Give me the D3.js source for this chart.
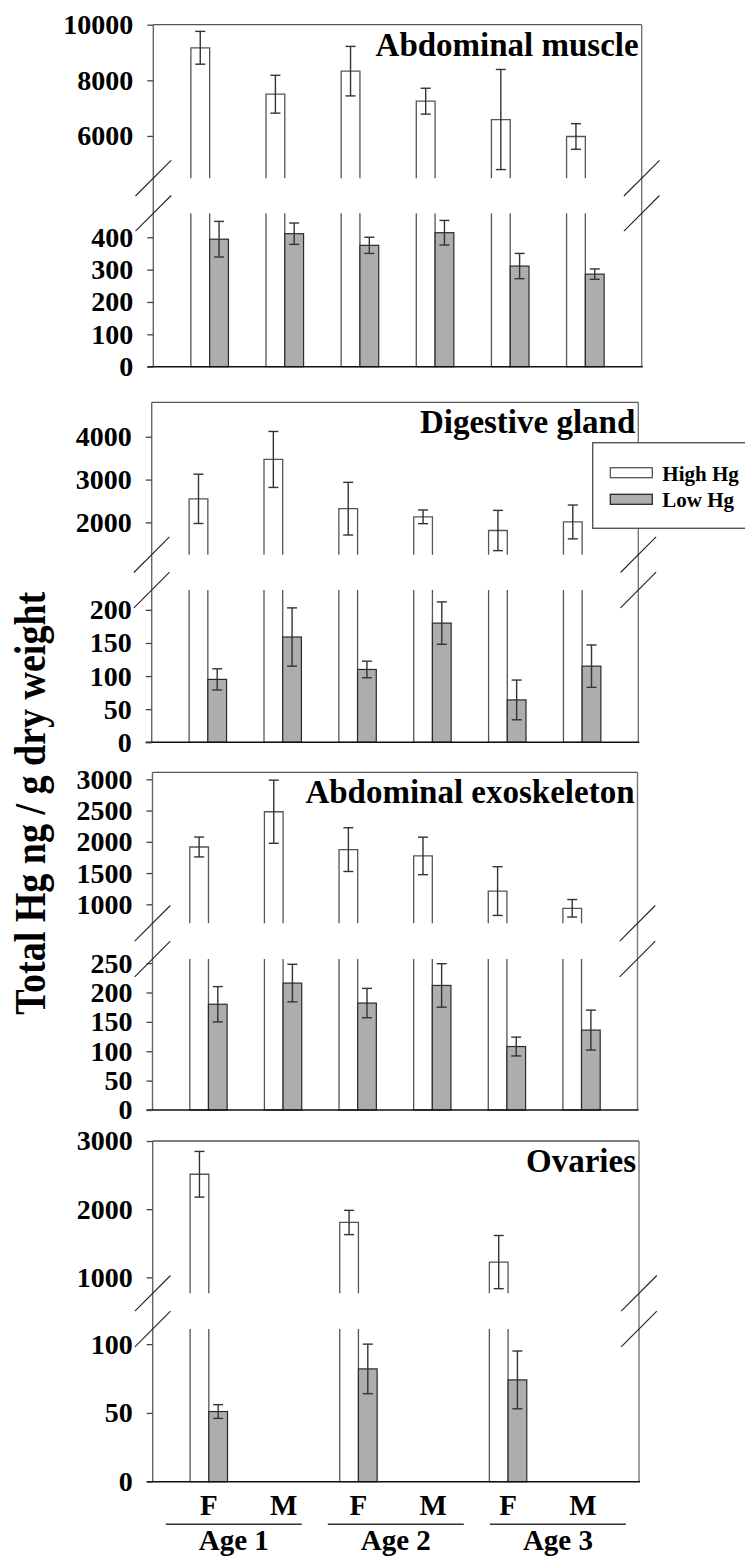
<!DOCTYPE html>
<html>
<head>
<meta charset="utf-8">
<script src="https://cdn.jsdelivr.net/npm/d3@7"></script>
<style>
  html, body { margin: 0; padding: 0; background: #fff; }
  svg { display: block; }
</style>
</head>
<body>
<svg id="chart" width="745" height="1557"></svg>
<script>
// Sex within each age class, and the age classes
const groups = ["F", "M", "F", "M", "F", "M"];
const ages = ["Age 1", "Age 2", "Age 3"];
const tissues = ["Abdominal muscle", "Digestive gland", "Abdominal exoskeleton", "Ovaries"];
const seriesNames = ["High Hg", "Low Hg"];

// Total Hg (ng/g dry weight), mean and error, per group
const muscleHigh    = [9170, 7500, 8330, 7250, 6590, 5980];
const muscleHighErr = [590, 680, 890, 465, 1800, 460];
const muscleLow     = [394, 411, 375, 414, 311, 286];
const muscleLowErr  = [55, 33, 25, 38, 39, 16];

const digestHigh    = [2550, 3470, 2320, 2130, 1810, 2010];
const digestHighErr = [576, 654, 615, 160, 470, 395];
const digestLow     = [95, 159, 110, 180, 64, 115];
const digestLowErr  = [16, 44, 12.5, 32, 30, 32];

const exoHigh       = [1917, 2481, 1875, 1774, 1212, 936];
const exoHighErr    = [159, 505, 350, 300, 390, 140];
const exoLow        = [180, 216, 182, 212, 108, 136];
const exoLowErr     = [30, 32, 25, 37, 16, 34];

const ovaryHigh     = [2512, null, 1805, null, 1224, null];
const ovaryHighErr  = [335, null, 178, null, 390, null];
const ovaryLow      = [51, null, 82, null, 74, null];
const ovaryLowErr   = [5, null, 18, null, 21, null];

// Axis ticks and domains of the two segments of each broken axis
const upperTicks = [[6000, 8000, 10000], [2000, 3000, 4000], [1000, 1500, 2000, 2500, 3000], [1000, 2000, 3000]];
const lowerTicks = [[0, 100, 200, 300, 400], [0, 50, 100, 150, 200], [0, 50, 100, 150, 200, 250], [0, 50, 100]];
const upperDomains = [[4480, 10000], [1245, 4805], [696, 3112], [766, 3000]];
const lowerDomains = [[0, 474], [0, 230], [0, 257], [0, 111]];

const highSeries = [muscleHigh, digestHigh, exoHigh, ovaryHigh];
const highErrors = [muscleHighErr, digestHighErr, exoHighErr, ovaryHighErr];
const lowSeries  = [muscleLow, digestLow, exoLow, ovaryLow];
const lowErrors  = [muscleLowErr, digestLowErr, exoLowErr, ovaryLowErr];

// Panel frames: upper segment spans top..cut, lower segment resume..bottom
const frames = [
  { left: 153.3, right: 641.7, top: 24.7,  cut: 178.2,  resume: 213.3, bottom: 366.7 },
  { left: 151.7, right: 638.3, top: 402.3, cut: 554.7,  resume: 590,   bottom: 742.3 },
  { left: 152.5, right: 637.5, top: 772.3, cut: 923.3,  resume: 959,   bottom: 1110 },
  { left: 152.7, right: 639,   top: 1141,  cut: 1293.3, resume: 1329,  bottom: 1481.7 }
];

const serif = '"Liberation Serif", "Times New Roman", Times, serif';
const highStroke = "#555";
const lowFill = "#adadad";
const lowStroke = "#2a2a2a";
const errColor = "#333";
const capHalf = 5;
const slash = 17.8;

const svg = d3.select("#chart");
svg.append("rect").attr("width", 745).attr("height", 1557).attr("fill", "#fff");

function errorBar(g, cx, yLo, yHi) {
  g.append("line").attr("x1", cx).attr("x2", cx).attr("y1", yLo).attr("y2", yHi)
    .attr("stroke", errColor).attr("stroke-width", 1.4);
  [yLo, yHi].forEach(y => {
    g.append("line").attr("x1", cx - capHalf).attr("x2", cx + capHalf).attr("y1", y).attr("y2", y)
      .attr("stroke", errColor).attr("stroke-width", 1.4);
  });
}

function styleAxis(sel) {
  sel.select(".domain").remove();
  sel.attr("font-size", 28).attr("font-family", serif).attr("font-weight", "bold");
  sel.selectAll(".tick line").attr("stroke", "#444").attr("stroke-width", 1.3);
  sel.selectAll(".tick text").attr("fill", "#000");
}

let lastX = null;

frames.forEach((f, p) => {
  const g = svg.append("g");
  const x = d3.scalePoint().domain(d3.range(groups.length)).range([f.left, f.right]).padding(0.75);
  const bw = x.step() * 0.25;
  const yU = d3.scaleLinear().domain(upperDomains[p]).range([f.cut, f.top]);
  const yL = d3.scaleLinear().domain(lowerDomains[p]).range([f.bottom, f.resume]);
  lastX = x;

  const hi = highSeries[p], hiE = highErrors[p], lo = lowSeries[p], loE = lowErrors[p];

  // High Hg bars: open-ended across the axis break
  hi.forEach((v, i) => {
    if (v == null) return;
    const x0 = x(i) - bw, x1 = x(i);
    g.append("path")
      .attr("d", `M${x0},${f.cut}V${yU(v)}H${x1}V${f.cut}`)
      .attr("fill", "#fff").attr("stroke", highStroke).attr("stroke-width", 1.3);
    g.append("path")
      .attr("d", `M${x0},${f.resume}V${f.bottom}H${x1}V${f.resume}`)
      .attr("fill", "#fff").attr("stroke", highStroke).attr("stroke-width", 1.3);
    errorBar(g, x(i) - bw / 2, yU(v - hiE[i]), yU(v + hiE[i]));
  });

  // Low Hg bars
  lo.forEach((v, i) => {
    if (v == null) return;
    g.append("rect")
      .attr("x", x(i)).attr("y", yL(v)).attr("width", bw).attr("height", yL(0) - yL(v))
      .attr("fill", lowFill).attr("stroke", lowStroke).attr("stroke-width", 1.2);
    errorBar(g, x(i) + bw / 2, yL(v - loE[i]), yL(v + loE[i]));
  });

  // Frame
  g.append("line").attr("x1", f.left).attr("x2", f.right).attr("y1", f.top).attr("y2", f.top)
    .attr("stroke", "#555").attr("stroke-width", 1.3);
  g.append("line").attr("x1", f.right).attr("x2", f.right).attr("y1", f.top).attr("y2", f.bottom)
    .attr("stroke", "#777").attr("stroke-width", 1.4);
  g.append("line").attr("x1", f.left).attr("x2", f.left).attr("y1", f.top).attr("y2", f.bottom)
    .attr("stroke", "#666").attr("stroke-width", 1.4);
  g.append("line").attr("x1", f.left - 6).attr("x2", f.right + 1).attr("y1", f.bottom).attr("y2", f.bottom)
    .attr("stroke", "#111").attr("stroke-width", 1.5);

  // Axes
  g.append("g").attr("transform", `translate(${f.left},0)`)
    .call(d3.axisLeft(yU).tickValues(upperTicks[p]).tickSize(6).tickPadding(14).tickFormat(d3.format("d")))
    .call(styleAxis);
  g.append("g").attr("transform", `translate(${f.left},0)`)
    .call(d3.axisLeft(yL).tickValues(lowerTicks[p]).tickSize(6).tickPadding(14).tickFormat(d3.format("d")))
    .call(styleAxis);

  // Break marks on both sides
  [f.left, f.right].forEach(sx => {
    [f.cut, f.resume].forEach(sy => {
      g.append("line")
        .attr("x1", sx - slash).attr("y1", sy + slash)
        .attr("x2", sx + slash).attr("y2", sy - slash)
        .attr("stroke", "#222").attr("stroke-width", 1.1);
    });
  });

  // Tissue title
  g.append("text")
    .attr("x", f.right - 3).attr("y", f.top + 31)
    .attr("text-anchor", "end").attr("font-size", 33)
    .text(tissues[p]);
});

// Category labels under the last panel
const fb = frames[frames.length - 1];
svg.append("g").selectAll("text").data(groups).join("text")
  .attr("x", (d, i) => lastX(i)).attr("y", 1515)
  .attr("text-anchor", "middle").attr("font-size", 29)
  .text(d => d);

const ageScale = d3.scaleBand().domain(ages).range([fb.left, fb.right]);
const ageG = svg.append("g");
ages.forEach(a => {
  const c = ageScale(a) + ageScale.bandwidth() / 2;
  ageG.append("line").attr("x1", c - 68).attr("x2", c + 68).attr("y1", 1524.3).attr("y2", 1524.3)
    .attr("stroke", "#333").attr("stroke-width", 1.4);
  ageG.append("text").attr("x", c).attr("y", 1550)
    .attr("text-anchor", "middle").attr("font-size", 29).text(a);
});

// Shared y-axis title
svg.append("text")
  .attr("transform", "translate(45,803.3) rotate(-90)")
  .attr("text-anchor", "middle").attr("font-size", 44)
  .attr("textLength", 423).attr("lengthAdjust", "spacingAndGlyphs")
  .text("Total Hg ng / g dry weight");

// Legend
const lg = svg.append("g");
lg.append("rect").attr("x", 592.7).attr("y", 442.7).attr("width", 160).attr("height", 85.6)
  .attr("fill", "#fff").attr("stroke", "#555").attr("stroke-width", 1.4);
const swatchFill = [
  { fill: "#fff", stroke: highStroke },
  { fill: lowFill, stroke: lowStroke }
];
seriesNames.forEach((name, i) => {
  const y0 = 467.7 + i * 26.6;
  lg.append("rect").attr("x", 610.3).attr("y", y0).attr("width", 42).attr("height", 10)
    .attr("fill", swatchFill[i].fill).attr("stroke", swatchFill[i].stroke).attr("stroke-width", 1.3);
  lg.append("text").attr("x", 662.3).attr("y", y0 + 13).attr("font-size", 21).text(name);
});

// Every label in the serif bold face
svg.selectAll("text")
  .style("font-family", serif)
  .style("font-weight", "bold")
  .style("fill", "#000");
</script>
</body>
</html>
